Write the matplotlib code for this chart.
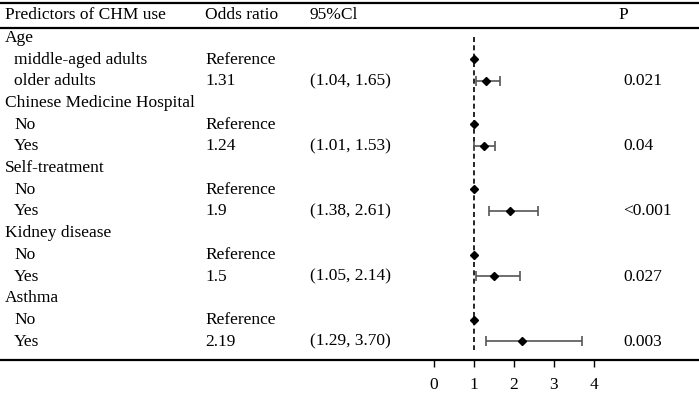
import matplotlib
matplotlib.use("Agg")
import matplotlib.pyplot as plt
import numpy as np

plt.rcParams['font.family'] = ['Liberation Serif', 'DejaVu Serif']

headers = ["Predictors of CHM use", "Odds ratio", "95%Cl", "P"]
labels = ["Age", "middle-aged adults", "older adults",
          "Chinese Medicine Hospital", "No", "Yes",
          "Self-treatment", "No", "Yes",
          "Kidney disease", "No", "Yes",
          "Asthma", "No", "Yes"]
is_group = [True, False, False, True, False, False, True, False, False,
            True, False, False, True, False, False]
or_text = ["", "Reference", "1.31", "", "Reference", "1.24", "", "Reference", "1.9",
           "", "Reference", "1.5", "", "Reference", "2.19"]
ci_text = ["", "", "(1.04, 1.65)", "", "", "(1.01, 1.53)", "", "", "(1.38, 2.61)",
           "", "", "(1.05, 2.14)", "", "", "(1.29, 3.70)"]
p_text = ["", "", "0.021", "", "", "0.04", "", "", "<0.001",
          "", "", "0.027", "", "", "0.003"]
odds = [np.nan, 1.0, 1.31, np.nan, 1.0, 1.24, np.nan, 1.0, 1.9,
        np.nan, 1.0, 1.5, np.nan, 1.0, 2.19]
lower = [np.nan, np.nan, 1.04, np.nan, np.nan, 1.01, np.nan, np.nan, 1.38,
         np.nan, np.nan, 1.05, np.nan, np.nan, 1.29]
upper = [np.nan, np.nan, 1.65, np.nan, np.nan, 1.53, np.nan, np.nan, 2.61,
         np.nan, np.nan, 2.14, np.nan, np.nan, 3.70]
xticks = [0, 1, 2, 3, 4]

W, H = 699, 397
fig = plt.figure(figsize=(W / 100, H / 100), dpi=100)

# pixel geometry
px0, ppu = 434.0, 40.0          # x pixel of OR=0, pixels per unit
row0, rstep = 37.5, 21.7        # y pixel of first row, row spacing
ybot = 360.0                    # bottom rule pixel

xl = (0 - px0) / ppu
xr = (W - px0) / ppu
yt = (0 - row0) / rstep
yb = (ybot - row0) / rstep

ax = fig.add_axes([0, 1 - ybot / H, 1, ybot / H])
ax.set_xlim(xl, xr)
ax.set_ylim(yb, yt)

def px2x(p):
    return (p - px0) / ppu

def py2y(p):
    return (p - row0) / rstep

n = len(labels)
rows = np.arange(n)

# text columns
fs = 12.5
va = 'center_baseline'
toff = -0.075
hy = py2y(13.0)
ax.text(px2x(5), hy, headers[0], fontsize=fs, va=va, ha='left')
ax.text(px2x(205), hy, headers[1], fontsize=fs, va=va, ha='left')
ax.text(px2x(310), hy, headers[2], fontsize=fs, va=va, ha='left')
ax.text(px2x(618), hy, headers[3], fontsize=fs, va=va, ha='left')

for i in rows:
    xpos = px2x(5) if is_group[i] else px2x(14)
    ax.text(xpos, i + toff, labels[i], fontsize=fs, va=va, ha='left')
    if or_text[i]:
        ax.text(px2x(205), i + toff, or_text[i], fontsize=fs, va=va, ha='left')
    if ci_text[i]:
        ax.text(px2x(310), i + toff, ci_text[i], fontsize=fs, va=va, ha='left')
    if p_text[i]:
        ax.text(px2x(623), i + toff, p_text[i], fontsize=fs, va=va, ha='left')

# rules
ax.axhline(py2y(2.5), color='black', lw=1.6, clip_on=False)
ax.axhline(py2y(27.5), color='black', lw=1.6, clip_on=False)

# reference line
ax.plot([1, 1], [py2y(37), py2y(350)], color='black', lw=1.2,
        linestyle=(0, (3, 2)))

# error bars and points
odds_a = np.array(odds)
lo = np.array(lower)
up = np.array(upper)
m = ~np.isnan(lo)
ax.errorbar(odds_a[m], rows[m], xerr=[odds_a[m] - lo[m], up[m] - odds_a[m]],
            fmt='none', ecolor='#555555', elinewidth=1.2, capsize=3.5,
            capthick=1.2, zorder=2)
mk = ~np.isnan(odds_a)
ax.plot(odds_a[mk], rows[mk], linestyle='none', marker='D', color='black',
        markersize=4.3, zorder=3)

# axes styling
for s in ['top', 'left', 'right']:
    ax.spines[s].set_visible(False)
ax.spines['bottom'].set_linewidth(1.6)
ax.set_yticks([])
ax.set_xticks(xticks)
ax.set_xticklabels([str(t) for t in xticks], fontsize=fs)
ax.tick_params(axis='x', direction='out', length=5, width=1.0, pad=7)

fig.savefig("out.png", dpi=100)
